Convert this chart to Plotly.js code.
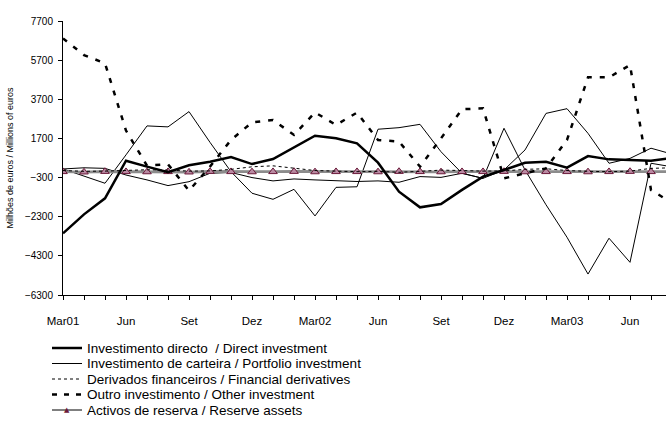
<!DOCTYPE html>
<html>
<head>
<meta charset="utf-8">
<script src="https://cdn.plot.ly/plotly-3.0.1.min.js"></script>
<style>html,body{margin:0;padding:0;background:#fff;}#chart{width:666px;height:425px;}</style>
</head>
<body>
<div id="chart"></div>
<script>
// Months Mar01 .. Aug03
const months = ['Mar01','Abr01','Mai01','Jun01','Jul01','Ago01','Set01','Out01','Nov01','Dez01','Jan02','Fev02',
                'Mar02','Abr02','Mai02','Jun02','Jul02','Ago02','Set02','Out02','Nov02','Dez02','Jan03','Fev03',
                'Mar03','Abr03','Mai03','Jun03','Jul03','Ago03'];
const tickLabels = ['Mar01','','','Jun','','','Set','','','Dez','','',
                    'Mar02','','','Jun','','','Set','','','Dez','','',
                    'Mar03','','','Jun','',''];

const directInvestment = [-3150,-2180,-1360,560,260,-30,330,510,750,390,650,1230,
                          1840,1710,1450,460,-1020,-1820,-1650,-930,-250,90,460,510,
                          210,800,630,600,560,700];
const portfolioInvestment = [140,-210,-590,860,2340,2290,3070,1500,0,-1100,-1410,-900,
                             -2260,-800,-770,2170,2250,2420,1020,-80,-340,2220,90,-1690,
                             -3350,-5230,-3400,-4630,430,250];
const portfolioInvestment2 = [140,200,170,-170,-420,-710,-510,-80,-40,-300,-470,-370,
                              -420,-470,-500,-470,-540,-250,-290,-80,-340,90,1110,2980,
                              3220,1960,430,680,1200,900];
const financialDerivatives = [60,20,30,50,100,80,30,40,120,250,300,180,
                              60,30,0,20,-30,20,80,60,30,40,120,150,
                              60,20,0,30,170,200];
const otherInvestment = [6810,5960,5540,2100,310,380,-970,260,1620,2520,2640,1880,
                         3030,2390,3020,1620,1540,260,1700,3190,3240,-340,-80,170,
                         1620,4820,4820,5450,-930,-1600];
const reserveAssets = [0,-20,10,0,-10,0,-20,10,0,-10,0,10,
                       -10,0,0,-10,10,0,-10,0,0,10,-10,0,
                       0,-10,0,10,0,0];

const legendNames = ['Investimento directo  / Direct investment',
                     'Investimento de carteira / Portfolio investment',
                     'Derivados financeiros / Financial derivatives',
                     'Outro investimento / Other investment',
                     'Activos de reserva / Reserve assets'];

const idx = months.map((m,i)=>i);
const FONT = 'Arial, "Liberation Sans", sans-serif';

const traces = [
  {x: idx, y: portfolioInvestment2, mode:'lines', line:{color:'#000', width:1}, showlegend:false, hoverinfo:'skip'},
  {x: idx, y: portfolioInvestment, mode:'lines', name: legendNames[1], line:{color:'#000', width:1}},
  {x: idx, y: reserveAssets, mode:'lines+markers', name: legendNames[4], line:{color:'#8c8c8c', width:2.8},
   marker:{symbol:'triangle-up', size:7.5, color:'#b98aa2', line:{color:'#6b1a3a', width:1}}},
  {x: idx, y: financialDerivatives, mode:'lines', name: legendNames[2], line:{color:'#000', width:1, dash:'dot'}},
  {x: idx, y: otherInvestment, mode:'lines', name: legendNames[3], line:{color:'#000', width:2.5, dash:'5px,8px'}},
  {x: idx, y: directInvestment, mode:'lines', name: legendNames[0], line:{color:'#000', width:2.5}}
];

// custom legend (pixel -> paper helpers)
const L = 63, T = 21, PW = 603, PH = 274;
const px = p => (p - L) / PW;
const py = p => (T + PH - p) / PH;
const rowsY = [348, 363.5, 379, 394.5, 410];
const styles = [
  {color:'#000', width:2.5, dash:'solid'},
  {color:'#000', width:1, dash:'solid'},
  {color:'#000', width:1, dash:'dot'},
  {color:'#000', width:2.5, dash:'5px,7px'},
  {color:'#000', width:1, dash:'solid'}
];
const shapes = [];
const annotations = [];
legendNames.forEach((n,i)=>{
  shapes.push({type:'line', xref:'paper', yref:'paper', x0:px(52), x1:px(82), y0:py(rowsY[i]), y1:py(rowsY[i]),
               line:styles[i]});
  annotations.push({xref:'paper', yref:'paper', x:px(85), y:py(rowsY[i]), xanchor:'left', yanchor:'middle',
                    text:n, showarrow:false, font:{family:FONT, size:13.5, color:'#000'}});
});
annotations.push({xref:'paper', yref:'paper', x:px(67), y:py(rowsY[4]-0.5), xanchor:'center', yanchor:'middle',
                  text:'▲', showarrow:false, font:{family:'DejaVu Sans', size:7, color:'#6b1a3a'}});

const layout = {
  width:666, height:425,
  margin:{l:L, r:0, t:T, b:425-T-PH},
  paper_bgcolor:'#fff', plot_bgcolor:'#fff',
  showlegend:false,
  font:{family:FONT, color:'#000'},
  xaxis:{range:[0, (666-L)/21], tickmode:'array', tickvals:idx, ticktext:tickLabels,
         showline:true, linecolor:'#000', linewidth:1, ticks:'outside', ticklen:4, tickcolor:'#000',
         tickfont:{family:FONT, size:11.5}, showgrid:false, zeroline:false, ticklabelstandoff:11, fixedrange:true},
  yaxis:{range:[-6300,7700], tickmode:'linear', tick0:-6300, dtick:2000,
         showline:true, linecolor:'#000', linewidth:1, ticks:'outside', ticklen:4, tickcolor:'#000',
         tickfont:{family:FONT, size:10}, showgrid:false, zeroline:false, ticklabelstandoff:3,
         title:{text:'Milhões de euros / Millions of euros', font:{family:FONT, size:9}, standoff:9}},
  shapes: shapes,
  annotations: annotations
};

Plotly.newPlot('chart', traces, layout, {staticPlot:true, displayModeBar:false});
</script>
</body>
</html>
